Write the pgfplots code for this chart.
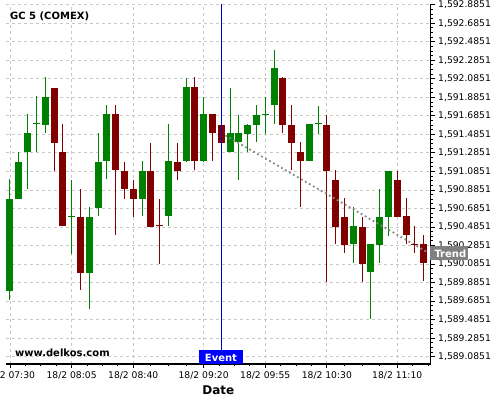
\documentclass[border=0pt]{standalone}
\usepackage{pgfplots}
\usepackage{pgfplotstable}
\pgfplotsset{compat=1.18}
\usepackage{fontspec}
\setmainfont{DejaVu Sans}
\definecolor{cgreen}{RGB}{0,128,0}
\definecolor{cred}{RGB}{128,0,0}
\definecolor{cgrid}{RGB}{200,200,200}
\definecolor{ctrend}{RGB}{136,136,136}
\definecolor{ceventline}{RGB}{0,0,205}
\definecolor{ceventbox}{RGB}{0,0,255}
\definecolor{ctrendbox}{RGB}{128,128,128}

\pgfplotstableread{
i o h l c
0 1589.8 1591.0 1589.7 1590.8
1 1590.8 1591.3 1590.8 1591.2
2 1591.3 1591.7 1590.9 1591.5
3 1591.6 1591.9 1591.3 1591.6
4 1591.6 1592.1 1591.5 1591.9
7 1590.6 1591.0 1590.2 1590.6
9 1590.0 1590.7 1589.6 1590.6
10 1590.7 1591.5 1590.6 1591.2
11 1591.2 1591.8 1591.0 1591.7
15 1590.8 1591.2 1590.6 1591.1
18 1590.6 1591.6 1590.5 1591.2
20 1591.2 1592.1 1591.2 1592.0
22 1591.2 1591.9 1591.2 1591.7
25 1591.3 1592.0 1591.3 1591.5
26 1591.4 1591.7 1591.0 1591.5
27 1591.5 1591.6 1591.3 1591.6
28 1591.6 1591.8 1591.4 1591.7
29 1591.7 1591.9 1591.5 1591.7
30 1591.8 1592.4 1591.6 1592.2
34 1591.2 1591.6 1591.2 1591.6
35 1591.6 1591.8 1591.5 1591.6
39 1590.3 1590.7 1590.1 1590.5
41 1590.0 1590.3 1589.5 1590.3
42 1590.3 1590.9 1590.1 1590.6
43 1590.6 1591.1 1590.4 1591.1
}\greentab

\pgfplotstableread{
i o h l c
5 1592.0 1592.0 1591.1 1591.4
6 1591.3 1591.6 1590.5 1590.5
8 1590.6 1590.9 1589.8 1590.0
12 1591.7 1591.8 1590.4 1591.1
13 1591.1 1591.2 1590.8 1590.9
14 1590.9 1591.0 1590.6 1590.8
16 1591.1 1591.4 1590.5 1590.5
17 1590.5 1590.8 1590.1 1590.5
19 1591.2 1591.4 1591.0 1591.1
21 1592.0 1592.1 1591.1 1591.2
23 1591.7 1591.7 1591.2 1591.5
24 1591.6 1591.6 1591.4 1591.4
31 1592.1 1592.1 1591.5 1591.6
32 1591.6 1591.8 1591.1 1591.4
33 1591.3 1591.4 1590.7 1591.2
36 1591.6 1591.7 1589.9 1591.1
37 1591.0 1591.1 1590.3 1590.5
38 1590.6 1590.8 1590.2 1590.3
40 1590.5 1590.6 1589.9 1590.1
44 1591.0 1591.1 1590.6 1590.6
45 1590.6 1590.8 1590.3 1590.4
46 1590.3 1590.5 1590.2 1590.3
47 1590.3 1590.4 1589.9 1590.1
}\redtab

\pgfplotsset{
  candle/.style 2 args={only marks, mark=*, mark size=0pt,
    mark options={draw=none, fill=none}, forget plot,
    error bars/.cd, y dir=both, y explicit, error mark=none,
    error bar style={line width=#1, #2}},
}

\begin{document}
\begin{tikzpicture}
\path[use as bounding box] (0,0) rectangle (500pt,-400pt);
\begin{axis}[
  at={(6pt,-364pt)}, anchor=south west,
  scale only axis, width=424.7pt, height=359.5pt,
  xmin=-0.454, xmax=47.80, ymin=1589.006, ymax=1592.887,
  axis x line*=bottom, axis y line*=right,
  axis line style={line width=1.3pt, black},
  xtick={0,7,14,22,29,36,44},
  xticklabels={18/2 07:30,18/2 08:05,18/2 08:40,18/2 09:20,18/2 09:55,18/2 10:30,18/2 11:10},
  minor xtick={1.75,3.5,5.25,8.75,10.5,12.25,16,18,20,23.75,25.5,27.25,30.75,32.5,34.25,38,40,42,45.75,47.5},
  ytick={1589.0851,1589.2851,1589.4851,1589.6851,1589.8851,1590.0851,1590.2851,1590.4851,1590.6851,1590.8851,1591.0851,1591.2851,1591.4851,1591.6851,1591.8851,1592.0851,1592.2851,1592.4851,1592.6851,1592.8851},
  yticklabels={{1,589.0851},{1,589.2851},{1,589.4851},{1,589.6851},{1,589.8851},{1,590.0851},{1,590.2851},{1,590.4851},{1,590.6851},{1,590.8851},{1,591.0851},{1,591.2851},{1,591.4851},{1,591.6851},{1,591.8851},{1,592.0851},{1,592.2851},{1,592.4851},{1,592.6851},{1,592.8851}},
  minor y tick num=3,
  tick align=outside,
  major tick length=4pt, minor tick length=2.5pt,
  tick style={black, line width=0.8pt},
  grid=major,
  grid style={cgrid, line width=0.8pt, dash pattern=on 3pt off 3pt},
  tick label style={font=\fontsize{9.2}{11}\selectfont},
  xlabel={Date},
  xlabel style={font=\bfseries\fontsize{12}{14}\selectfont},
]
% wicks
\addplot[candle={1pt}{cgreen}]
  table[x=i, y expr={(\thisrow{h}+\thisrow{l})/2}, y error expr={(\thisrow{h}-\thisrow{l})/2}] {\greentab};
\addplot[candle={1pt}{cred}]
  table[x=i, y expr={(\thisrow{h}+\thisrow{l})/2}, y error expr={(\thisrow{h}-\thisrow{l})/2}] {\redtab};
% bodies
\addplot[candle={7pt}{cgreen}]
  table[x=i, y expr={(\thisrow{o}+\thisrow{c})/2}, y error expr={abs(\thisrow{c}-\thisrow{o})/2}] {\greentab};
\addplot[candle={7pt}{cred}]
  table[x=i, y expr={(\thisrow{o}+\thisrow{c})/2}, y error expr={abs(\thisrow{c}-\thisrow{o})/2}] {\redtab};
% dojis
\addplot[only marks, mark=-, mark size=3.5pt, cgreen, mark options={line width=1pt}]
  coordinates {(3,1591.6) (7,1590.6) (29,1591.7) (35,1591.6)};
\addplot[only marks, mark=-, mark size=3.5pt, cred, mark options={line width=1pt}]
  coordinates {(17,1590.5) (46,1590.3)};
% trend
\addplot[ctrend, line width=1.8pt, dash pattern=on 1.8pt off 2.8pt]
  coordinates {(24.47,1591.474) (47.3,1590.22)};
% event line
\addplot[ceventline, line width=1pt] coordinates {(24,1589.006) (24,1592.887)};
\end{axis}
\node[anchor=base west, inner sep=0pt, font=\bfseries\fontsize{10}{12}\selectfont] at (10pt,-19.3pt) {GC 5 (COMEX)};
\node[anchor=base west, inner sep=0pt, font=\bfseries\fontsize{10}{12}\selectfont] at (15pt,-356.7pt) {www.delkos.com};
\fill[ceventbox] (199pt,-350pt) rectangle (242.7pt,-364pt);
\node[anchor=base, inner sep=0pt, text=white, font=\bfseries\fontsize{10}{12}\selectfont] at (221pt,-361pt) {Event};
\fill[ctrendbox] (430pt,-246pt) rectangle (468pt,-260pt);
\node[anchor=base west, inner sep=0pt, text=white, font=\bfseries\fontsize{10}{12}\selectfont] at (434.3pt,-257.3pt) {Trend};
\end{tikzpicture}
\end{document}
